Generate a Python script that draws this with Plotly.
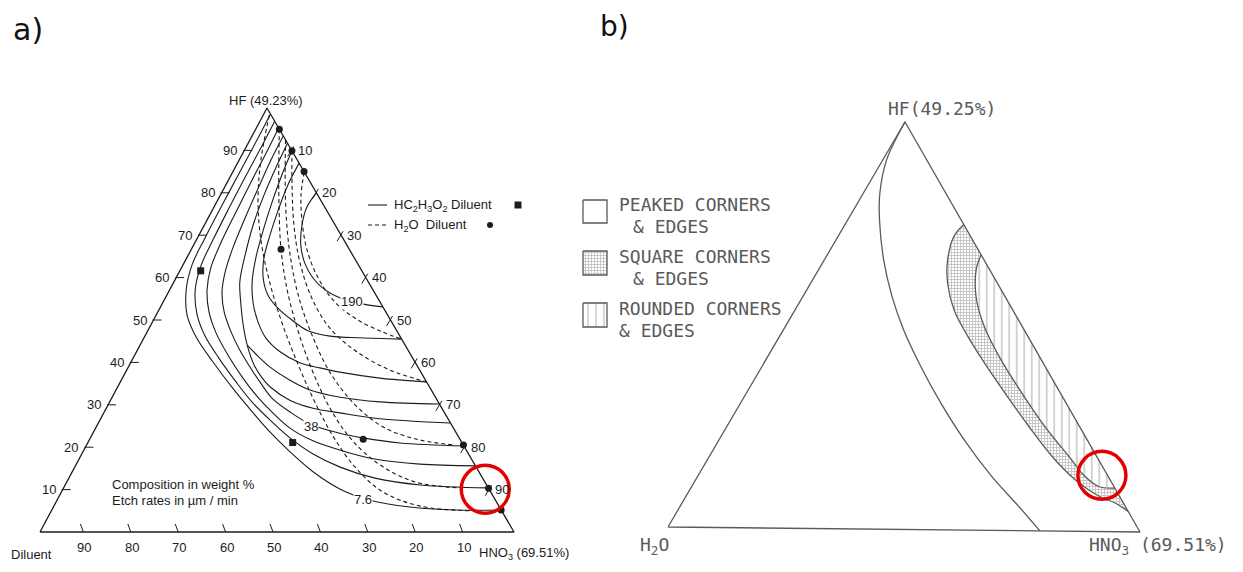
import plotly.graph_objects as go

# ---------------- panel a) : etch-rate contours, points are (HNO3 %, HF %) ----------------
acetic_7_6 = [(1.4, 98.6), (1.5, 92.5), (1.5, 84.9), (1.5, 77.1), (1.6, 69.3), (1.9, 63.0), (3.5, 57.1),
              (6.5, 51.2), (10.9, 46.0), (17.3, 40.1), (24.9, 33.5), (31.5, 28.1), (37.2, 23.6), (43.7, 18.9),
              (50.8, 14.2), (58.5, 10.1), (66.0, 7.5), (75.2, 5.9), (85.1, 5.2), (94.8, 5.2)]
acetic_2 = [(3.1, 96.9), (3.2, 91.0), (3.2, 84.0), (3.3, 76.4), (3.5, 68.9), (3.9, 62.7), (5.4, 57.1),
            (8.5, 51.4), (12.7, 46.2), (18.1, 41.0), (24.4, 35.4), (30.0, 30.7), (35.9, 26.4), (42.1, 22.2),
            (48.8, 18.4), (56.0, 15.3), (64.6, 12.7), (74.9, 11.1), (89.6, 10.4)]
acetic_3 = [(4.7, 95.3), (4.9, 89.4), (5.0, 82.5), (5.2, 75.5), (5.5, 68.2), (6.2, 62.3), (7.9, 57.1),
            (10.8, 51.9), (14.7, 46.9), (19.7, 41.7), (25.1, 36.6), (30.1, 32.3), (34.7, 28.8), (41.0, 24.5),
            (47.3, 21.5), (54.1, 19.3), (62.4, 17.2), (72.5, 16.0), (84.4, 15.6)]
acetic_38 = [(6.6, 93.4), (6.7, 87.7), (7.2, 81.1), (7.8, 74.1), (8.6, 67.0), (9.7, 61.3), (11.3, 56.6),
             (14.0, 51.9), (17.7, 47.2), (21.6, 42.9), (26.4, 38.2), (30.2, 34.7), (33.8, 31.6), (39.2, 28.3),
             (44.7, 25.5), (52.1, 23.3), (57.5, 22.2), (65.9, 21.0), (79.7, 20.3)]
acetic_5 = [(8.3, 91.7), (8.6, 86.1), (9.2, 79.5), (10.3, 72.4), (12.0, 65.3), (13.9, 59.0), (16.5, 54.0),
            (19.5, 48.8), (22.6, 44.1), (26.3, 39.4), (29.5, 36.3), (32.2, 34.2), (37.8, 31.1), (43.6, 29.2),
            (49.8, 28.1), (58.9, 26.7), (74.3, 25.7)]
acetic_6 = [(22.6, 44.1), (26.1, 41.5), (29.9, 38.9), (35.6, 35.8), (40.9, 33.5), (48.1, 31.8), (57.0, 30.7),
            (69.8, 30.2)]
acetic_7 = [(10.1, 89.9), (10.7, 84.2), (11.7, 77.8), (13.0, 71.2), (14.5, 64.9), (16.5, 59.0), (19.1, 54.0),
            (22.3, 49.5), (25.7, 45.8), (30.3, 42.5), (35.7, 39.9), (40.5, 38.7), (45.2, 37.7), (54.3, 36.3),
            (64.6, 35.4)]
acetic_8 = [(13.0, 87.0), (13.1, 81.8), (13.9, 75.9), (15.0, 70.0), (16.3, 64.6), (18.4, 59.9), (21.3, 55.9),
            (24.9, 52.8), (29.2, 50.0), (33.5, 47.6), (39.1, 46.2), (45.6, 45.8), (54.5, 45.5)]
acetic_190 = [(20.0, 80.0), (19.6, 76.7), (20.6, 72.4), (22.6, 67.7), (25.5, 63.4), (28.9, 59.9), (32.8, 57.1),
              (37.4, 55.0), (42.2, 53.8), (46.9, 53.1)]

water_1 = [(1.3, 98.3), (4.6, 87.7), (8.5, 78.3), (13.6, 68.9), (19.9, 59.4), (26.9, 50.0), (34.6, 40.6),
           (42.9, 31.1), (51.4, 22.2), (59.4, 15.1), (67.9, 9.4), (77.3, 6.1), (88.3, 5.0)]
water_2 = [(5.0, 95.0), (8.9, 86.6), (13.5, 77.1), (18.9, 66.7), (24.8, 57.1), (31.6, 47.6), (39.1, 38.2),
           (47.2, 29.2), (55.4, 21.7), (64.2, 15.8), (73.5, 11.8), (83.6, 10.4)]
water_3 = [(7.5, 92.5), (11.4, 84.2), (16.1, 74.8), (21.5, 65.3), (27.7, 55.9), (35.1, 46.5), (43.1, 37.7),
           (52.1, 30.0), (61.1, 24.5), (69.8, 21.7), (77.7, 20.5)]
water_4 = [(10.1, 89.9), (14.0, 81.8), (18.9, 72.4), (24.3, 63.7), (30.9, 55.2), (38.1, 48.1), (46.5, 42.5),
           (55.5, 38.2), (64.6, 35.4)]
water_5 = [(15.1, 84.9), (17.0, 79.5), (20.3, 73.1), (24.5, 66.5), (30.0, 59.9), (36.3, 54.2), (43.1, 50.0),
           (49.6, 47.2), (54.5, 45.5)]

water_points = [(5.0, 95.0), (10.1, 89.9), (15.0, 85.0), (18.9, 66.7), (57.7, 21.9), (79.5, 20.5),
                (89.7, 10.3), (94.8, 5.2)]
acetic_points = [(4.4, 61.6), (43.2, 21.1)]

rate_labels = ["190", "38", "7.6"]
rate_label_at = [(39.9, 54.3), (45.2, 24.8), (64.5, 7.7)]
ticks = [10, 20, 30, 40, 50, 60, 70, 80, 90]

# ---------------- panel b) : corner-shape regions, (HNO3 %, HF %) ----------------
peaked_edge = [(0.0, 100.0), (0.8, 90.6), (3.5, 82.4), (6.7, 75.9), (12.5, 66.1), (18.8, 57.1), (25.4, 48.9),
               (33.5, 40.0), (42.2, 31.1), (51.7, 22.1), (62.0, 13.2), (71.4, 5.9), (78.8, 0.0)]
square_edge = [(25.0, 75.0), (24.4, 72.0), (26.0, 66.2), (28.8, 60.6), (33.5, 54.0), (39.7, 47.5), (46.4, 41.1),
               (54.4, 33.8), (63.6, 25.6), (72.2, 18.3), (80.0, 12.6), (87.1, 8.6), (91.3, 7.0), (95.0, 5.0)]
rounded_edge = [(32.4, 67.6), (33.2, 63.9), (36.5, 57.3), (41.9, 50.0), (49.6, 41.8), (58.0, 33.8),
                (67.0, 25.6), (75.8, 18.3), (81.7, 13.4), (85.8, 11.0), (88.8, 10.7), (89.3, 10.7)]

marked_a = (89.1, 10.1)
marked_b = (85.0, 13.8)

# page position of the corners: (diluent / H2O, HNO3, HF)
TRI_A = ((40, 532), (514, 532), (267, 108))
TRI_B = ((668, 527), (1140, 532), (905, 122))
CORNERS = [(0, 0), (100, 0), (0, 100), (0, 0)]

INK = "#1c1c1c"
GREY = "#5a5a5a"
SANS = "Liberation Sans, Arial, sans-serif"
MONO = "DejaVu Sans Mono, monospace"
STIPPLE = dict(shape="+", size=3, solidity=0.45, fgcolor="#7a7a7a", bgcolor="white")


def project(tri, pts):
    (x0, y0), (x1, y1), (x2, y2) = tri
    xs, ys = [], []
    for hno3, hf in pts:
        c, a = hno3 / 100, hf / 100
        xs.append(x0 + (x1 - x0) * c + (x2 - x0) * a)
        ys.append(y0 + (y1 - y0) * c + (y2 - y0) * a)
    return xs, ys


fig = go.Figure()


def add_line(tri, pts, color=INK, width=1.1, dash=None, shape="spline"):
    xs, ys = project(tri, pts)
    fig.add_trace(go.Scatter(x=xs, y=ys, mode="lines", hoverinfo="skip",
                             line=dict(color=color, width=width, dash=dash, shape=shape, smoothing=1)))


# ---- panel a ----
add_line(TRI_A, CORNERS, width=1.3, shape="linear")
for curve in [acetic_7_6, acetic_2, acetic_3, acetic_38, acetic_5, acetic_6, acetic_7, acetic_8, acetic_190]:
    add_line(TRI_A, curve)
for curve in [water_1, water_2, water_3, water_4, water_5]:
    add_line(TRI_A, curve, dash="4px,3px")

xs, ys = project(TRI_A, water_points)
fig.add_trace(go.Scatter(x=xs, y=ys, mode="markers", hoverinfo="skip",
                         marker=dict(symbol="circle", size=7, color=INK)))
xs, ys = project(TRI_A, acetic_points)
fig.add_trace(go.Scatter(x=xs, y=ys, mode="markers", hoverinfo="skip",
                         marker=dict(symbol="square", size=7, color=INK)))

# tick marks and tick labels on the three sides
tx, ty = [], []
ann = []
tick_font = dict(family=SANS, size=13, color=INK)
for v in ticks:
    (x,), (y,) = project(TRI_A, [(0, v)])          # HF side
    tx += [x - 1, x + 8, None]; ty += [y, y, None]
    ann.append(dict(x=x - 5, y=y, text=str(v), xanchor="right", font=tick_font))
    (x,), (y,) = project(TRI_A, [(v, 100 - v)])    # HNO3 side
    tx += [x + 2, x - 4, None]; ty += [y - 4, y + 6, None]
    ann.append(dict(x=x + 4, y=y, text=str(v), xanchor="left", font=tick_font))
    (x,), (y,) = project(TRI_A, [(100 - v, 0)])    # diluent side
    tx += [x - 7, x - 4, None]; ty += [y - 8, y, None]
    ann.append(dict(x=x - 3, y=y + 15, text=str(v), xanchor="center", font=tick_font))
fig.add_trace(go.Scatter(x=tx, y=ty, mode="lines", hoverinfo="skip", line=dict(color=INK, width=1)))

xs, ys = project(TRI_A, rate_label_at)
for t, x, y in zip(rate_labels, xs, ys):
    ann.append(dict(x=x, y=y, text=t, bgcolor="white", borderpad=0, font=tick_font))

ann += [
    dict(x=266, y=100, text="HF (49.23%)", font=tick_font),
    dict(x=8.5, y=554, text="Diluent", xanchor="left", font=tick_font),
    dict(x=477, y=553, text="HNO<sub>3</sub> (69.51%)", xanchor="left", font=tick_font),
    dict(x=110, y=484, text="Composition in weight %", xanchor="left", font=tick_font),
    dict(x=110, y=500, text="Etch rates in µm / min", xanchor="left", font=tick_font),
    dict(x=392, y=205, text="HC<sub>2</sub>H<sub>3</sub>O<sub>2</sub> Diluent", xanchor="left", font=tick_font),
    dict(x=392, y=225, text="H<sub>2</sub>O  Diluent", xanchor="left", font=tick_font),
    dict(x=11, y=29, text="a)", xanchor="left", font=dict(family="DejaVu Sans", size=30, color="#111")),
    dict(x=598, y=26, text="b)", xanchor="left", font=dict(family="DejaVu Sans", size=28, color="#111")),
]

shapes = [
    dict(type="line", x0=368, x1=387, y0=205, y1=205, line=dict(color=INK, width=1.1)),
    dict(type="line", x0=368, x1=387, y0=225, y1=225, line=dict(color=INK, width=1.1, dash="4px,3px")),
    dict(type="rect", x0=514.5, x1=521.5, y0=201.5, y1=208.5, fillcolor=INK, line=dict(width=0)),
    dict(type="circle", x0=487, x1=493, y0=222, y1=228, fillcolor=INK, line=dict(width=0)),
]

# ---- panel b ----
stipple = square_edge + rounded_edge[::-1]
xs, ys = project(TRI_B, stipple)
fig.add_trace(go.Scatter(x=xs, y=ys, mode="lines", fill="toself", hoverinfo="skip", line=dict(width=0),
                         fillcolor="white", fillpattern=STIPPLE))
xs, ys = project(TRI_B, rounded_edge)
fig.add_trace(go.Scatter(x=xs, y=ys, mode="lines", fill="toself", hoverinfo="skip", line=dict(width=0),
                         fillcolor="white",
                         fillpattern=dict(shape="|", size=7.5, solidity=0.15, fgcolor="#666666", bgcolor="white")))
add_line(TRI_B, CORNERS, color=GREY, width=1.3, shape="linear")
for curve in [peaked_edge, square_edge, rounded_edge]:
    add_line(TRI_B, curve, color=GREY, width=1.3)

# legend keys of panel b
keys = [(200, 223, None), (251, 275, "+"), (303, 327, "|")]
for y0, y1, pat in keys:
    kw = dict(fillcolor="white")
    if pat == "+":
        kw["fillpattern"] = STIPPLE
    elif pat == "|":
        kw["fillpattern"] = dict(shape="|", size=8, solidity=0.13, fgcolor="#666666", bgcolor="white")
    fig.add_trace(go.Scatter(x=[583, 607, 607, 583, 583], y=[y0, y0, y1, y1, y0], mode="lines",
                             fill="toself", hoverinfo="skip", line=dict(color=GREY, width=1.3), **kw))

mono = dict(family=MONO, size=18, color=GREY)
ann += [
    dict(x=617, y=204.5, text="PEAKED CORNERS", xanchor="left", font=mono),
    dict(x=631, y=226.5, text="&amp; EDGES", xanchor="left", font=mono),
    dict(x=617, y=256.5, text="SQUARE CORNERS", xanchor="left", font=mono),
    dict(x=631, y=278.5, text="&amp; EDGES", xanchor="left", font=mono),
    dict(x=617, y=308.5, text="ROUNDED CORNERS", xanchor="left", font=mono),
    dict(x=617, y=330.5, text="&amp; EDGES", xanchor="left", font=mono),
    dict(x=942, y=108, text="HF(49.25%)", font=dict(family=MONO, size=18, color=GREY)),
    dict(x=638, y=546, text="H<sub>2</sub>O", xanchor="left", font=dict(family=MONO, size=18, color=GREY)),
    dict(x=1087, y=546, text="HNO<sub>3</sub> (69.51%)", xanchor="left", font=dict(family=MONO, size=18, color=GREY)),
]

# red highlight rings
for tri, comp in [(TRI_A, marked_a), (TRI_B, marked_b)]:
    (cx,), (cy,) = project(tri, [comp])
    shapes.append(dict(type="circle", x0=cx - 24, x1=cx + 24, y0=cy - 24, y1=cy + 24,
                       line=dict(color="#e50000", width=3.5)))

for a in ann:
    a.update(xref="x", yref="y", showarrow=False)

# the page body keeps its default 8px margin, so the plot is 16px smaller and the
# axis ranges start at 8: one axis unit is then one pixel of the window
fig.update_layout(
    width=1227, height=556, autosize=False,
    margin=dict(l=0, r=0, t=0, b=0),
    paper_bgcolor="white", plot_bgcolor="white",
    showlegend=False,
    xaxis=dict(range=[8, 1235], visible=False, fixedrange=True),
    yaxis=dict(range=[564, 8], visible=False, fixedrange=True),
    annotations=ann, shapes=shapes,
)

fig.write_html("out.html")
